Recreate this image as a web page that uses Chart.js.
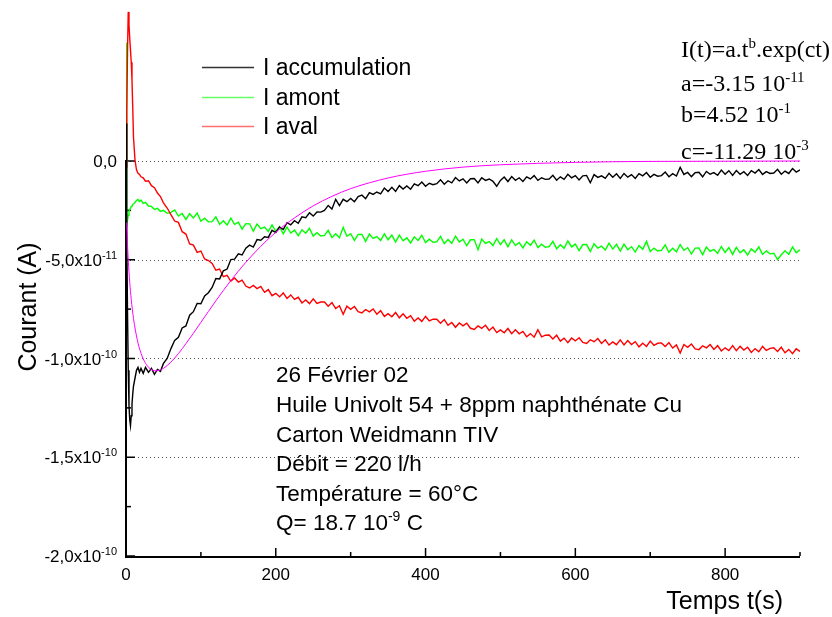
<!DOCTYPE html>
<html><head><meta charset="utf-8">
<script src="https://cdn.jsdelivr.net/npm/chart.js@4/dist/chart.umd.min.js"></script>
<style>html,body{margin:0;padding:0;background:#fff}canvas{display:block}</style>
</head><body>
<canvas id="c" width="832" height="617"></canvas>
<script>
// ---- data (currents in units of 1e-11 A, time in s) ----
const timeS = [0,1,2,3,4,5,6,7,8,9,10,12,14,16,18,20,23,26,30,34,38,42,46,50,55,60,
65,70,75,80,85,90,95,100,105,110,
115,120,125,130,135,140,145,150,155,160,
165,170,175,180,185,190,195,200,205,210,
215,220,225,230,235,240,245,250,255,260,
265,270,275,280,285,290,295,300,305,310,
315,320,325,330,335,340,345,350,355,360,
365,370,375,380,385,390,395,400,405,410,
415,420,425,430,435,440,445,450,455,460,
465,470,475,480,485,490,495,500,505,510,
515,520,525,530,535,540,545,550,555,560,
565,570,575,580,585,590,595,600,605,610,
615,620,625,630,635,640,645,650,655,660,
665,670,675,680,685,690,695,700,705,710,
715,720,725,730,735,740,745,750,755,760,
765,770,775,780,785,790,795,800,805,810,
815,820,825,830,835,840,845,850,855,860,
865,870,875,880,885,890,895,900];

const accumulation = [1.9,-3.5,-7.6,-10.6,-12.4,-13.1,-13.4,-12.9,-12.3,-11.8,-11.4,-11.0,-10.6,-10.45,-10.7,-10.5,-10.75,-10.45,-10.7,-10.5,-10.8,-10.55,-10.65,-10.25,-10.0,-9.5,
-9.08,-8.93,-8.45,-8.35,-7.81,-7.63,-7.21,-7.23,-6.83,-6.67,
-6.4,-5.95,-5.97,-5.56,-5.47,-4.99,-4.97,-4.7,-4.76,-4.41,
-4.26,-4.36,-3.98,-4.01,-3.84,-3.87,-3.51,-3.62,-3.34,-3.47,
-3.12,-3.23,-3.02,-3.15,-2.83,-2.87,-2.62,-2.79,-2.58,-2.59,
-2.5,-2.25,-2.43,-1.94,-2.26,-1.94,-2.06,-1.9,-2.06,-1.8,
-1.73,-1.91,-1.6,-1.69,-1.57,-1.66,-1.37,-1.54,-1.33,-1.54,
-1.25,-1.42,-1.26,-1.43,-1.16,-1.25,-1.06,-1.28,-1.13,-1.2,
-1.15,-0.95,-1.18,-1.0,-1.11,-0.84,-1.01,-0.9,-1.11,-0.9,
-0.89,-1.11,-0.85,-0.98,-0.91,-1.03,-1.28,-0.98,-0.81,-1.04,
-0.79,-0.98,-0.85,-1.04,-0.8,-0.91,-0.74,-0.98,-0.85,-0.93,
-0.91,-0.72,-0.97,-0.8,-0.93,-0.67,-0.85,-0.74,-0.96,-0.75,
-0.73,-1.1,-0.69,-0.83,-0.75,-0.88,-0.62,-0.82,-0.65,-0.88,
-0.63,-0.82,-0.69,-0.88,-0.64,-0.75,-0.58,-0.82,-0.68,-0.77,
-0.74,-0.56,-0.8,-0.64,-0.76,-0.32,-0.68,-0.58,-0.79,-0.59,
-0.57,-0.8,-0.53,-0.67,-0.59,-0.72,-0.46,-0.67,-0.49,-0.73,
-0.48,-0.67,-0.54,-0.73,-0.49,-0.61,-0.43,-0.68,-0.54,-0.63,
-0.61,-0.42,-0.67,-0.51,-0.63,-0.38,-0.56,-0.45];

const amont = [6.0,-3.3,-3.0,-2.75,-2.55,-2.45,-2.4,-2.3,-2.28,-2.2,-2.18,-2.1,-2.0,-1.95,-2.05,-1.98,-2.15,-2.1,-2.28,-2.3,-2.45,-2.4,-2.55,-2.5,-2.65,-2.6,
-2.48,-2.79,-2.66,-2.96,-2.67,-2.88,-2.64,-3.05,-2.9,-3.08,
-3.07,-2.83,-3.21,-3.03,-3.24,-2.89,-3.21,-3.1,-3.45,-3.17,
-3.18,-3.55,-3.19,-3.43,-3.35,-3.57,-3.24,-3.56,-3.33,-3.69,
-3.35,-3.65,-3.5,-3.78,-3.48,-3.66,-3.41,-3.8,-3.63,-3.8,
-3.77,-3.51,-3.88,-3.68,-3.88,-3.36,-3.81,-3.68,-4.02,-3.72,
-3.72,-4.07,-3.7,-3.92,-3.83,-4.03,-3.69,-3.99,-3.75,-4.1,
-3.75,-4.04,-3.89,-4.15,-3.84,-4.02,-3.76,-4.13,-3.96,-4.12,
-4.09,-3.82,-4.18,-3.98,-4.17,-3.8,-4.1,-3.96,-4.29,-3.99,
-3.98,-4.49,-3.95,-4.17,-4.08,-4.28,-3.93,-4.23,-3.99,-4.34,
-3.99,-4.28,-4.13,-4.4,-4.09,-4.27,-4.0,-4.38,-4.21,-4.37,
-4.34,-4.07,-4.44,-4.24,-4.42,-4.05,-4.35,-4.21,-4.54,-4.23,
-4.23,-4.58,-4.19,-4.41,-4.31,-4.51,-4.16,-4.46,-4.22,-4.56,
-4.21,-4.49,-4.34,-4.61,-4.29,-4.47,-4.07,-4.58,-4.41,-4.56,
-4.53,-4.25,-4.62,-4.42,-4.6,-4.23,-4.52,-4.39,-4.71,-4.41,
-4.4,-4.75,-4.36,-4.58,-4.48,-4.68,-4.33,-4.63,-4.38,-4.73,
-4.37,-4.65,-4.5,-4.76,-4.45,-4.62,-4.35,-4.73,-4.55,-4.7,
-4.67,-4.99,-4.75,-4.55,-4.73,-4.35,-4.64,-4.5];

const aval = [-0.3,2.5,5.5,7.55,6.9,6.2,5.6,5.0,4.1,2.7,1.2,0.05,-0.45,-0.62,-0.68,-0.8,-0.85,-1.02,-1.0,-1.25,-1.35,-1.62,-1.8,-2.12,-2.38,-2.72,
-3.04,-3.11,-3.58,-3.7,-4.2,-4.26,-4.63,-4.56,-4.96,-5.04,
-5.19,-5.53,-5.47,-5.86,-5.79,-6.09,-5.92,-6.13,-6.03,-6.33,
-6.43,-6.3,-6.46,-6.35,-6.65,-6.51,-6.82,-6.7,-6.88,-6.68,
-6.96,-6.78,-7.01,-6.9,-7.19,-7.04,-7.22,-6.98,-7.21,-7.14,
-7.14,-7.35,-7.17,-7.47,-7.33,-7.76,-7.35,-7.51,-7.37,-7.63,
-7.69,-7.52,-7.64,-7.49,-7.76,-7.58,-7.87,-7.73,-7.89,-7.67,
-7.94,-7.74,-7.96,-7.83,-8.11,-7.95,-8.12,-7.87,-8.1,-8.01,
-8.01,-8.21,-8.03,-8.32,-8.18,-8.42,-8.2,-8.35,-8.21,-8.47,
-8.53,-8.35,-8.47,-8.32,-8.58,-8.41,-8.69,-8.55,-8.7,-8.48,
-8.74,-8.54,-8.75,-8.63,-8.9,-8.74,-8.92,-8.54,-8.9,-8.82,
-8.81,-9.01,-8.82,-9.12,-8.97,-9.2,-8.96,-9.11,-8.95,-9.19,
-9.24,-9.05,-9.15,-8.99,-9.24,-9.05,-9.32,-9.16,-9.3,-9.06,
-9.31,-9.09,-9.29,-9.15,-9.41,-9.23,-9.39,-9.12,-9.33,-9.23,
-9.21,-9.39,-9.19,-9.47,-9.31,-9.72,-9.29,-9.43,-9.27,-9.51,
-9.55,-9.36,-9.46,-9.29,-9.54,-9.35,-9.62,-9.46,-9.6,-9.35,
-9.6,-9.38,-9.57,-9.43,-9.69,-9.5,-9.66,-9.39,-9.59,-9.49,
-9.46,-9.64,-9.43,-9.71,-9.54,-9.76,-9.51,-9.64];

const fitTime = [1,2,3,5,7,10,15,20,25,30,35,40,45,50,60,70,80,90,100,120,140,160,180,200,225,250,275,300,350,400,450,500,600,700,800,900];
const fitValues = [-3.11,-4.21,-5.0,-6.16,-7.01,-7.97,-9.04,-9.73,-10.17,-10.44,-10.58,-10.63,-10.59,-10.5,-10.18,-9.75,-9.25,-8.72,-8.17,-7.08,-6.05,-5.13,-4.32,-3.61,-2.88,-2.27,-1.79,-1.4,-0.86,-0.52,-0.31,-0.19,-0.07,-0.02,-0.01,0];

const UNIT = 1e-11;
const xTicks = [0,200,400,600,800];
const xMinorTicks = [100,300,500,700,900];
const yTicks = [0,-5e-11,-1e-10,-1.5e-10,-2e-10];
const yTickMantissa = ['0,0','-5,0x10','-1,0x10','-1,5x10','-2,0x10'];
const yTickExponent = ['','-11','-10','-10','-10'];
const yMinorTicks = [-2.5e-11,-7.5e-11,-1.25e-10,-1.75e-10];
const gridValues = [0,-5e-11,-1e-10,-1.5e-10];
const seriesNames = ['I accumulation','I amont','I aval'];
const seriesColors = ['#000000','#00ff00','#ff0000'];
const legendColors = ['#333333','#66ff66','#ff7070'];
const fitColor = '#ff00ff';
const xTitle = 'Temps t(s)';
const yTitle = 'Courant (A)';
const formulaLines = [
  [['I(t)=a.t',0],['b',1],['.exp(ct)',0]],
  [['a=-3.15 10',0],['-11',1]],
  [['b=4.52 10',0],['-1',1]],
  [['c=-11.29 10',0],['-3',1]]
];
const noteLines = [
  [['26 Février 02',0]],
  [['Huile Univolt 54 + 8ppm naphthénate Cu',0]],
  [['Carton Weidmann TIV',0]],
  [['Débit = 220 l/h',0]],
  [['Température = 60°C',0]],
  [['Q= 18.7 10',0],['-9',1],[' C',0]]
];

const toXY = (ts, vs) => ts.map((t, i) => ({x: t, y: vs[i] * UNIT}));

const SANS = '"Liberation Sans", Arial, sans-serif';
const SERIF = '"Liberation Serif", "Times New Roman", serif';

function rich(ctx, parts, x, y, align, size, supSize, rise, family) {
  let widths = parts.map(p => { ctx.font = (p[1] ? supSize : size) + 'px ' + family; return ctx.measureText(p[0]).width; });
  const w = widths.reduce((a, b) => a + b, 0);
  let cx = align === 'right' ? x - w : (align === 'center' ? x - w / 2 : x);
  ctx.textAlign = 'left';
  ctx.textBaseline = 'alphabetic';
  parts.forEach((p, i) => {
    ctx.font = (p[1] ? supSize : size) + 'px ' + family;
    ctx.fillText(p[0], cx, p[1] ? y - rise : y);
    cx += widths[i];
  });
}

const decor = {
  id: 'decor',
  beforeDatasetsDraw(chart) {
    const ctx = chart.ctx, xs = chart.scales.x, ys = chart.scales.y;
    const a = chart.chartArea;
    ctx.save();
    ctx.strokeStyle = '#555';
    ctx.lineWidth = 1;
    ctx.setLineDash([1, 3]);
    gridValues.forEach(v => {
      const y = Math.round(ys.getPixelForValue(v)) + 0.5;
      ctx.beginPath(); ctx.moveTo(a.left, y); ctx.lineTo(a.right, y); ctx.stroke();
    });
    ctx.setLineDash([]);
    ctx.strokeStyle = '#000';
    ctx.lineWidth = 2;
    const y0 = ys.getPixelForValue(0), yb = ys.getPixelForValue(-2e-10);
    ctx.beginPath(); ctx.moveTo(a.left, y0 - 1); ctx.lineTo(a.left, yb + 1); ctx.lineTo(a.right, yb + 1); ctx.stroke();
    ctx.lineWidth = 1.5;
    xTicks.forEach(v => { const x = xs.getPixelForValue(v); ctx.beginPath(); ctx.moveTo(x, yb); ctx.lineTo(x, yb - 8); ctx.stroke(); });
    xMinorTicks.forEach(v => { const x = xs.getPixelForValue(v); ctx.beginPath(); ctx.moveTo(x, yb); ctx.lineTo(x, yb - 4); ctx.stroke(); });
    yTicks.forEach(v => { const y = ys.getPixelForValue(v); ctx.beginPath(); ctx.moveTo(a.left, y); ctx.lineTo(a.left + 9, y); ctx.stroke(); });
    yMinorTicks.forEach(v => { const y = ys.getPixelForValue(v); ctx.beginPath(); ctx.moveTo(a.left, y); ctx.lineTo(a.left + 5, y); ctx.stroke(); });
    ctx.restore();
  },
  afterDatasetsDraw(chart) {
    const ctx = chart.ctx, xs = chart.scales.x, ys = chart.scales.y;
    const yb = ys.getPixelForValue(-2e-10);
    ctx.save();
    ctx.fillStyle = '#000';
    ctx.font = '17px ' + SANS;
    ctx.textAlign = 'center';
    ctx.textBaseline = 'alphabetic';
    xTicks.forEach(v => ctx.fillText(String(v), xs.getPixelForValue(v), yb + 24));
    yTicks.forEach((v, i) => {
      const y = ys.getPixelForValue(v);
      const parts = [[yTickMantissa[i], 0]];
      if (yTickExponent[i]) parts.push([yTickExponent[i], 1]);
      rich(ctx, parts, 117, y + 6, 'right', 17, 11, 7, SANS);
    });
    ctx.font = '25px ' + SANS;
    ctx.textAlign = 'right';
    ctx.fillText(xTitle, 783, 609);
    ctx.save();
    ctx.translate(36, 307);
    ctx.rotate(-Math.PI / 2);
    ctx.textAlign = 'center';
    ctx.fillText(yTitle, 0, 0);
    ctx.restore();
    const legY = [67, 97, 126];
    seriesNames.forEach((n, i) => {
      ctx.strokeStyle = legendColors[i];
      ctx.lineWidth = 1.5;
      ctx.beginPath(); ctx.moveTo(202, legY[i] + 0.5); ctx.lineTo(254, legY[i] + 0.5); ctx.stroke();
      ctx.font = '23px ' + SANS;
      ctx.textAlign = 'left';
      ctx.fillStyle = '#000';
      ctx.fillText(n, 263, legY[i] + 8);
    });
    const fY = [57, 91, 122, 159];
    formulaLines.forEach((l, i) => rich(ctx, l, 681, fY[i], 'left', 24, 15, 9, SERIF));
    const nY = [382, 412, 442, 471, 501, 530];
    noteLines.forEach((l, i) => rich(ctx, l, 276, nY[i], 'left', 22.5, 14, 9, SANS));
    ctx.restore();
  }
};

new Chart(document.getElementById('c'), {
  type: 'line',
  data: {
    datasets: [
      {label: 'fit', data: toXY(fitTime, fitValues), borderColor: fitColor, borderWidth: 1, pointRadius: 0, cubicInterpolationMode: 'monotone'},
      {label: seriesNames[0], data: toXY(timeS, accumulation), borderColor: seriesColors[0], borderWidth: 1.4, pointRadius: 0, tension: 0},
      {label: seriesNames[2], data: toXY(timeS, aval), borderColor: seriesColors[2], borderWidth: 1.4, pointRadius: 0, tension: 0},
      {label: seriesNames[1], data: toXY(timeS, amont), borderColor: seriesColors[1], borderWidth: 1.4, pointRadius: 0, tension: 0}
    ]
  },
  options: {
    responsive: false,
    animation: false,
    events: [],
    layout: {padding: {left: 126, right: 32, top: 3, bottom: 61}},
    plugins: {legend: {display: false}, tooltip: {enabled: false}},
    scales: {
      x: {type: 'linear', min: 0, max: 900, display: false},
      y: {type: 'linear', min: -2e-10, max: 8e-11, display: false}
    }
  },
  plugins: [decor]
});
</script>
</body></html>
